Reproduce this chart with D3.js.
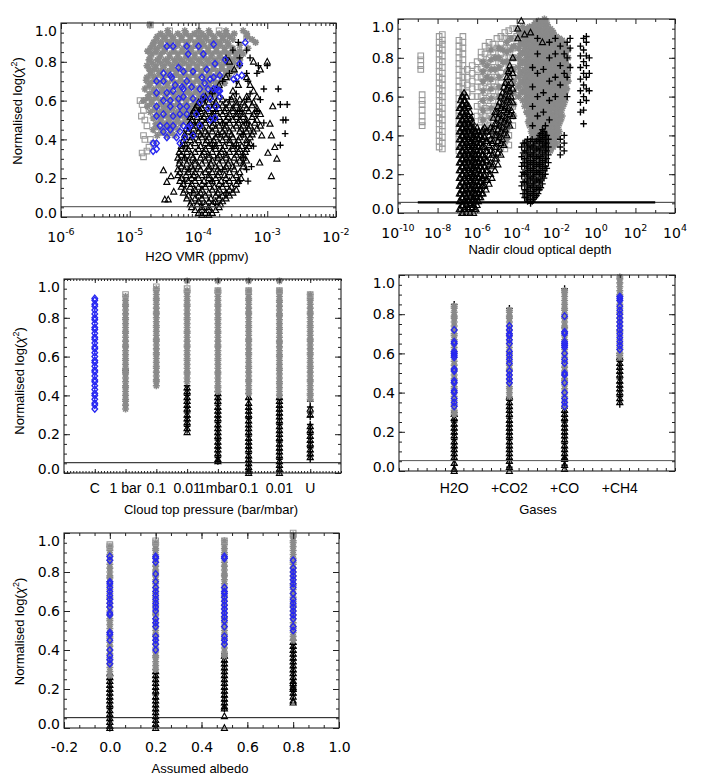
<!DOCTYPE html>
<html>
<head>
<meta charset="utf-8">
<script src="https://cdn.jsdelivr.net/npm/d3@7"></script>
<style>
  body { margin: 0; background: #fff; }
  text { font-family: "Liberation Sans", Arial, Helvetica, sans-serif; fill: #000; }
  .num { font-family: "DejaVu Sans", "Liberation Sans", Arial, sans-serif; }
</style>
</head>
<body>
<script>
// ---- data ----------------------------------------------------------------
// scatter blocks: each line is "y: log10(x) log10(x) ..." (rows) or "log10(x): y y ..." (cols)
// category columns: one string of y values (in hundredths) per category

var threshold = 0.053;
var threshold2 = 0.055;
var threshold2Span = [-9, 3];   // log10 extent of the heavy line in the optical depth panel

var yMajor = [0, 0.2, 0.4, 0.6, 0.8, 1.0];

// H2O VMR panel
var vmrDecades = [-6, -5, -4, -3, -2];
var vmrSquares = `
0.99: -4.7
0.96: -4.42 -3.7
0.92: -4.5 -3.3
0.88: -4.6
0.85: -4.65
0.80: -4.7
0.75: -4.68
0.70: -4.73
0.66: -4.75
0.63: -4.7
0.60: -4.85 -4.72
0.58: -4.82
0.55: -4.8
0.52: -4.83
0.50: -4.78
0.47: -4.75
0.45: -4.62
0.42: -4.8
0.40: -4.78 -4.7
0.38: -4.65
0.36: -4.72
0.34: -4.75
0.33: -4.82
0.31: -4.8`;
var vmrStars = `
0.99: -4.71
0.96: -4.45 -4.2 -4.0 -3.85 -3.6 -3.35
0.93: -4.6 -4.5 -4.38 -4.25 -4.12 -4.0 -3.9 -3.78 -3.65 -3.55 -3.29
0.90: -4.65 -4.55 -4.42 -4.3 -4.18 -4.05 -3.95 -3.82 -3.7 -3.58 -3.17
0.87: -4.7 -4.6 -4.48 -4.36 -4.22 -4.1 -3.98 -3.86 -3.74 -3.62 -3.5 -3.28
0.84: -4.68 -4.55 -4.42 -4.3 -4.18 -4.05 -3.92 -3.8 -3.68 -3.56 -3.45 -3.35
0.81: -4.72 -4.6 -4.48 -4.35 -4.25 -4.12 -4.0 -3.88 -3.76 -3.64 -3.52 -3.4
0.78: -4.75 -4.62 -4.5 -4.38 -4.26 -4.14 -4.02 -3.9 -3.78 -3.66 -3.55 -3.41
0.75: -4.7 -4.58 -4.45 -4.33 -4.2 -4.08 -3.96 -3.84 -3.72 -3.6 -3.48
0.72: -4.75 -4.63 -4.5 -4.38 -4.26 -4.14 -4.02 -3.9 -3.78 -3.66 -3.55
0.69: -4.7 -4.58 -4.45 -4.32 -4.2 -4.08 -3.96 -3.84 -3.72 -3.62
0.66: -4.78 -4.65 -4.52 -4.4 -4.28 -4.15 -4.03 -3.92 -3.8 -3.7
0.63: -4.72 -4.6 -4.47 -4.35 -4.22 -4.1 -3.98 -3.86 -3.76
0.60: -4.8 -4.68 -4.55 -4.42 -4.3 -4.18 -4.06 -3.94
0.57: -4.74 -4.6 -4.48 -4.36 -4.24 -4.12 -4.0
0.54: -4.7 -4.57 -4.45 -4.32 -4.2 -4.08
0.51: -4.66 -4.54 -4.42 -4.3 -4.18
0.48: -4.62 -4.5 -4.38 -4.26
0.45: -4.66 -4.52 -4.4 -4.3
0.42: -4.6 -4.45 -4.35`;
var vmrStarsB = `
0.945: -4.55 -4.43 -4.3 -4.18 -4.06 -3.95 -3.83 -3.7 -3.6 -3.48 -3.3
0.915: -4.62 -4.48 -4.36 -4.24 -4.12 -3.98 -3.88 -3.76 -3.64 -3.5 -3.22
0.885: -4.67 -4.54 -4.42 -4.3 -4.16 -4.04 -3.92 -3.8 -3.68 -3.56 -3.4
0.855: -4.74 -4.62 -4.5 -4.36 -4.24 -4.12 -3.98 -3.86 -3.74 -3.62 -3.5 -3.4
0.825: -4.7 -4.56 -4.42 -4.3 -4.18 -4.06 -3.94 -3.82 -3.7 -3.58 -3.46
0.795: -4.68 -4.55 -4.44 -4.32 -4.2 -4.08 -3.96 -3.84 -3.72 -3.6 -3.48
0.765: -4.72 -4.64 -4.52 -4.39 -4.27 -4.14 -4.02 -3.9 -3.78 -3.66 -3.54
0.735: -4.69 -4.56 -4.44 -4.32 -4.2 -4.08 -3.96 -3.84 -3.72 -3.6
0.705: -4.76 -4.64 -4.52 -4.38 -4.26 -4.14 -4.02 -3.9 -3.78 -3.66
0.675: -4.72 -4.58 -4.46 -4.34 -4.22 -4.09 -3.97 -3.86 -3.75
0.645: -4.66 -4.54 -4.41 -4.28 -4.16 -4.04 -3.92 -3.8
0.615: -4.74 -4.62 -4.49 -4.36 -4.24 -4.12 -4.0 -3.88
0.585: -4.68 -4.54 -4.42 -4.3 -4.18 -4.06
0.555: -4.64 -4.51 -4.39 -4.26 -4.14 -4.02
0.525: -4.6 -4.48 -4.36 -4.24 -4.12
0.495: -4.56 -4.44 -4.32 -4.2
0.465: -4.6 -4.46 -4.35
0.435: -4.53 -4.4`;
var vmrTriangles = `
0.80: -3.55 -3.2 -3.0
0.76: -3.48 -3.1
0.72: -3.6 -3.3
0.68: -3.7 -3.42 -3.25
0.65: -3.8 -3.5 -3.2
0.62: -3.9 -3.7 -3.5 -3.3 -3.15
0.59: -4.0 -3.85 -3.75 -3.6 -3.45 -3.35 -3.2
0.57: -2.92
0.56: -4.05 -3.95 -3.8 -3.7 -3.6 -3.5 -3.4 -3.3 -3.15
0.53: -4.1 -4.0 -3.9 -3.8 -3.65 -3.55 -3.45 -3.35 -3.2 -3.1
0.50: -4.1 -3.95 -3.85 -3.75 -3.6 -3.5 -3.4 -3.3 -3.15
0.48: -2.96
0.47: -4.15 -4.05 -3.95 -3.8 -3.7 -3.6 -3.45 -3.35 -3.25 -3.1
0.44: -4.15 -4.0 -3.9 -3.8 -3.65 -3.55 -3.4 -3.3 -3.2
0.42: -3.08 -2.94
0.41: -4.2 -4.1 -3.95 -3.85 -3.75 -3.6 -3.5 -3.4 -3.25
0.38: -4.2 -4.05 -3.9 -3.8 -3.7 -3.55 -3.45 -3.3 -3.25
0.36: -2.89
0.35: -4.25 -4.15 -4.0 -3.9 -3.75 -3.65 -3.5 -3.4 -3.3
0.33: -2.99
0.32: -4.25 -4.1 -3.95 -3.85 -3.7 -3.6 -3.45 -3.35
0.30: -2.86
0.29: -4.27 -4.15 -4.05 -3.9 -3.8 -3.65 -3.55 -3.4 -3.3
0.28: -3.11
0.26: -4.25 -4.1 -4.0 -3.85 -3.75 -3.6 -3.5 -3.35
0.24: -4.51
0.23: -4.27 -4.15 -4.05 -3.9 -3.8 -3.7 -3.55 -3.4
0.21: -4.4 -2.94
0.20: -4.25 -4.1 -4.0 -3.85 -3.75 -3.6 -3.5 -3.38
0.18: -4.46
0.17: -4.22 -4.1 -3.95 -3.85 -3.7 -3.6 -3.45
0.14: -4.2 -4.05 -3.95 -3.8 -3.7 -3.55 -3.45
0.13: -4.36
0.11: -4.15 -4.0 -3.9 -3.75 -3.65 -3.55
0.09: -4.49 -4.44
0.08: -4.1 -4.0 -3.85 -3.75 -3.65
0.05: -4.1 -3.95 -3.85 -3.7
0.02: -4.0 -3.9 -3.8`;
var vmrTrianglesB = `
0.605: -3.95 -3.8 -3.65 -3.52 -3.4 -3.27
0.575: -4.02 -3.9 -3.77 -3.65 -3.55 -3.45 -3.33 -3.22
0.545: -4.07 -3.97 -3.85 -3.75 -3.62 -3.5 -3.4 -3.27 -3.15
0.515: -4.12 -4.02 -3.92 -3.8 -3.7 -3.57 -3.45 -3.35 -3.22
0.485: -4.12 -4.0 -3.9 -3.78 -3.65 -3.55 -3.42 -3.3 -3.18
0.455: -4.18 -4.07 -3.97 -3.85 -3.75 -3.62 -3.5 -3.38 -3.27 -3.15
0.425: -4.2 -4.07 -3.97 -3.87 -3.72 -3.62 -3.52 -3.35 -3.22
0.395: -4.22 -4.12 -4.0 -3.88 -3.78 -3.65 -3.55 -3.42 -3.3
0.365: -4.25 -4.12 -3.97 -3.85 -3.75 -3.62 -3.5 -3.37 -3.27
0.335: -4.28 -4.17 -4.05 -3.92 -3.8 -3.67 -3.55 -3.42 -3.32
0.305: -4.3 -4.2 -4.08 -3.97 -3.85 -3.72 -3.6 -3.48 -3.35
0.275: -4.28 -4.17 -4.05 -3.95 -3.82 -3.7 -3.57 -3.45 -3.35
0.245: -4.3 -4.2 -4.08 -3.97 -3.85 -3.72 -3.62 -3.48
0.215: -4.3 -4.18 -4.07 -3.95 -3.85 -3.72 -3.62 -3.45
0.185: -4.27 -4.15 -4.05 -3.92 -3.8 -3.67 -3.55 -3.42
0.155: -4.25 -4.12 -4.0 -3.9 -3.77 -3.65 -3.52
0.125: -4.22 -4.07 -3.97 -3.85 -3.72 -3.6 -3.5
0.095: -4.17 -4.05 -3.95 -3.82 -3.7 -3.6
0.065: -4.12 -4.02 -3.9 -3.8 -3.68
0.035: -4.05 -3.95 -3.85 -3.75
0.01: -3.95 -3.85`;
var vmrPluses = `
0.90: -3.42
0.86: -3.5 -3.3
0.82: -3.6 -3.4 -3.25
0.78: -3.4 -3.13 -3.0
0.74: -3.55 -3.3 -3.15
0.70: -3.65 -3.45 -3.28
0.66: -2.84 -3.05
0.635: -3.8 -3.45 -3.25
0.605: -3.9 -3.55 -3.3 -3.1
0.58: -2.81 -2.71
0.545: -4.0 -3.75 -3.4 -3.15
0.50: -2.77 -2.73
0.485: -4.05 -3.65 -3.3 -3.05
0.43: -2.74
0.425: -4.1 -3.7 -3.35
0.37: -2.81
0.365: -4.2 -3.8 -3.45 -3.2
0.305: -4.2 -3.75 -3.35
0.26: -3.23
0.245: -4.15 -3.65 -3.3
0.185: -4.2 -3.8 -3.4 -3.28
0.125: -4.1 -3.6
0.065: -3.95 -3.75`;
var vmrDiamonds = `
0.88: -4.46 -4.37 -4.17 -4.0
0.89: -3.78
0.90: -3.32
0.84: -4.15 -3.93
0.81: -3.61
0.79: -3.76 -3.4
0.77: -4.29
0.76: -3.88
0.75: -4.22 -4.08
0.74: -4.51
0.73: -4.41 -3.69 -3.37
0.72: -3.78 -3.44 -4.39 -3.95
0.71: -3.49 -3.83
0.70: -4.61 -4.51 -4.17
0.69: -3.91
0.68: -4.34
0.67: -4.24 -4.1
0.66: -3.74 -4.22 -3.98 -3.86 -3.78
0.65: -3.69 -4.37 -3.71
0.64: -4.61 -4.46
0.62: -4.22 -3.93 -3.69
0.61: -4.29 -4.08 -3.83
0.60: -4.51 -4.41
0.59: -3.98
0.57: -4.61 -4.41 -4.27 -4.17 -3.74
0.56: -3.86
0.53: -4.51 -4.27 -4.17 -4.03
0.52: -4.61 -4.37
0.51: -3.76
0.50: -3.83
0.47: -4.56 -4.46 -4.37 -4.22 -4.12 -3.98
0.46: -4.15
0.45: -4.41
0.44: -4.51 -4.27
0.42: -4.08
0.41: -4.46 -4.32 -4.2
0.38: -4.66 -4.61 -4.27
0.35: -4.61
0.34: -4.66`;

// Nadir cloud optical depth panel
var tauDecades = [-10, -8, -6, -4, -2, 0, 2, 4];
var tauSquares = `
-8.85: .81 .79 .76 .74
-8.78: .61 .58 .56 .53 .50 .47 .45
-7.92: .91 .88 .85 .82 .79 .76 .73 .70 .67 .64 .61 .58 .55 .52 .49 .46 .43 .40 .37 .34
-7.76: .92 .89 .87 .84 .81 .78 .75 .72 .69 .66 .63 .60 .57 .54 .51 .48 .45 .42 .39 .36 .33
-6.92: .89 .86 .83 .80 .77 .74 .71 .68 .65 .62 .59 .56 .53 .50 .47 .44 .41 .38 .35 .32
-6.72: .91 .88 .85 .82 .79 .76 .73 .70 .67 .64 .61 .58 .55 .52 .49 .46 .43 .40 .37 .34 .31
-6.5: .62 .66 .70 .74
-6.25: .60 .64 .68 .72 .76
-6.0: .50 .55 .60 .65 .70 .74 .78
-5.8: .44 .48 .52 .56 .60 .65 .70 .75 .80 .83
-5.6: .42 .46 .50 .54 .58 .62 .67 .72 .77 .82 .86
-5.4: .40 .45 .50 .55 .60 .65 .70 .75 .80 .85 .88
-5.2: .38 .43 .48 .53 .58 .63 .68 .73 .78 .83 .87
-5.0: .36 .40 .45 .50 .55 .60 .65 .70 .75 .80 .85 .90
-4.8: .34 .38 .42 .47 .52 .57 .62 .67 .72 .77 .82 .87 .91
-4.6: .33 .37 .41 .45 .50 .55 .60 .65 .70 .75 .80 .85 .90 .93
-4.4: .35 .40 .45 .50 .55 .60 .65 .70 .75 .80 .85 .90 .94
-4.2: .45 .50 .55 .60 .65 .70 .75 .80 .85 .90 .95
-4.0: .62 .68 .74 .80 .86 .91 .95
-3.8: .66 .72 .78 .85 .92
-3.6: .70 .80 .92`;
var tauStars = `
-5.5: .70 .76
-5.1: .74 .80
-4.7: .78 .84
-4.3: .84 .90
-3.9: .60 .65 .70 .75 .80 .85 .90 .94
-3.7: .58 .63 .68 .73 .78 .83 .88 .93 .96
-3.5: .52 .56 .60 .64 .68 .72 .76 .80 .84 .88 .92 .95
-3.35: .45 .49 .53 .57 .61 .65 .69 .73 .77 .81 .85 .89 .93 .96
-3.2: .40 .44 .48 .52 .56 .60 .64 .68 .72 .76 .80 .84 .88 .92 .96
-3.05: .39 .43 .47 .51 .55 .59 .63 .67 .71 .75 .79 .83 .87 .91 .95 .98
-2.9: .40 .44 .48 .52 .56 .60 .64 .68 .72 .76 .80 .84 .88 .92 .96 .99
-2.75: .38 .42 .46 .50 .54 .58 .62 .66 .70 .74 .78 .82 .86 .90 .94 .98
-2.6: .36 .40 .44 .48 .52 .56 .60 .64 .68 .72 .76 .80 .84 .88 .92 .96 1.0
-2.45: .33 .37 .41 .45 .49 .53 .57 .61 .65 .69 .73 .77 .81 .85 .89 .93 .97
-2.3: .32 .36 .40 .44 .48 .52 .56 .60 .64 .68 .72 .76 .80 .84 .88 .92 .95
-2.15: .34 .38 .42 .46 .50 .54 .58 .62 .66 .70 .74 .78 .82 .86 .90 .93
-2.0: .36 .40 .44 .48 .52 .56 .60 .64 .68 .72 .76 .80 .84 .88 .91
-1.85: .42 .46 .50 .54 .58 .62 .66 .70 .74 .78 .82 .86 .90
-1.7: .50 .54 .58 .62 .66 .70 .74 .78 .82 .86 .89
-1.55: .58 .62 .66 .70 .74 .78 .82 .86
-1.4: .68 .72 .76 .80 .84`;
var tauStarsB = `
-5.7: .48 .53 .58 .63 .68 .73 .78
-5.3: .44 .49 .54 .59 .64 .69 .74 .79 .84
-4.9: .40 .45 .50 .55 .60 .65 .70 .75 .80 .85
-4.5: .38 .43 .48 .53 .58 .63 .68 .73 .78 .83 .88
-4.15: .50 .56 .62 .68 .74 .80 .86
-3.8: .62 .67 .72 .77 .82 .87 .92
-3.6: .55 .58 .62 .66 .70 .74 .78 .82 .86 .90 .94
-3.42: .47 .51 .55 .59 .63 .67 .71 .75 .79 .83 .87 .91 .95
-3.27: .42 .46 .50 .54 .58 .62 .66 .70 .74 .78 .82 .86 .90 .94
-3.12: .41 .45 .49 .53 .57 .61 .65 .69 .73 .77 .81 .85 .89 .93 .97
-2.97: .42 .46 .50 .54 .58 .62 .66 .70 .74 .78 .82 .86 .90 .94 .98
-2.82: .40 .44 .48 .52 .56 .60 .64 .68 .72 .76 .80 .84 .88 .92 .96
-2.67: .38 .42 .46 .50 .54 .58 .62 .66 .70 .74 .78 .82 .86 .90 .94 .98
-2.52: .35 .39 .43 .47 .51 .55 .59 .63 .67 .71 .75 .79 .83 .87 .91 .95 .99
-2.37: .34 .38 .42 .46 .50 .54 .58 .62 .66 .70 .74 .78 .82 .86 .90 .94
-2.22: .34 .38 .42 .46 .50 .54 .58 .62 .66 .70 .74 .78 .82 .86 .90 .94
-2.07: .38 .42 .46 .50 .54 .58 .62 .66 .70 .74 .78 .82 .86 .90
-1.92: .40 .44 .48 .52 .56 .60 .64 .68 .72 .76 .80 .84 .88
-1.77: .48 .52 .56 .60 .64 .68 .72 .76 .80 .84 .88
-1.62: .56 .60 .64 .68 .72 .76 .80 .84 .87
-1.47: .64 .68 .72 .76 .80 .84`;
var tauTriangles = `
-6.9: .02 .06 .10 .14 .18 .22 .26 .30 .34 .38 .42 .46 .50 .54
-6.78: .00 .04 .08 .12 .16 .20 .24 .28 .32 .36 .40 .44 .48 .52 .56 .60
-6.66: .02 .06 .10 .14 .18 .22 .26 .30 .34 .38 .42 .46 .50 .54 .58 .62
-6.54: .00 .04 .08 .12 .16 .20 .24 .28 .32 .36 .40 .44 .48 .52 .56 .60
-6.42: .02 .06 .10 .14 .18 .22 .26 .30 .34 .38 .42 .46 .50 .55
-6.3: .05 .09 .13 .17 .21 .25 .29 .33 .37 .41 .45 .49
-6.18: .00 .04 .08 .12 .16 .20 .24 .28 .32 .36 .40 .44
-6.06: .02 .06 .10 .14 .18 .22 .26 .30 .34 .38 .42
-5.94: .06 .10 .14 .18 .22 .26 .30 .34 .38 .42
-5.82: .08 .12 .16 .20 .24 .28 .32 .36 .40
-5.7: .10 .14 .18 .22 .26 .30 .34 .38 .43
-5.55: .12 .17 .22 .27 .32 .37 .42
-5.4: .15 .20 .25 .30 .35 .40
-5.25: .18 .24 .30 .36 .42
-5.1: .22 .28 .34 .40 .46 .52
-4.95: .25 .31 .37 .43 .49 .55
-4.8: .30 .36 .42 .48 .54 .60
-4.65: .35 .41 .47 .53 .59 .65
-4.5: .40 .46 .52 .58 .64 .70
-4.35: .45 .51 .57 .63 .70 .76
-4.2: .50 .57 .64 .72 .80
-3.95: .90 .95
-3.77: .99
-3.6: .92
-3.3: .93
-2.7: .88`;
var tauTrianglesB = `
-6.84: .02 .06 .10 .14 .18 .22 .26 .30 .34 .38 .42 .46 .50 .54 .58
-6.72: .00 .04 .08 .12 .16 .20 .24 .28 .32 .36 .40 .44 .48 .52 .56 .60
-6.6: .02 .06 .10 .14 .18 .22 .26 .30 .34 .38 .42 .46 .50 .54 .58
-6.48: .03 .07 .11 .15 .19 .23 .27 .31 .35 .39 .43 .47 .51 .55
-6.36: .00 .04 .08 .12 .16 .20 .24 .28 .32 .36 .40 .44 .48 .52
-6.24: .03 .07 .11 .15 .19 .23 .27 .31 .35 .39 .43 .47
-6.12: .02 .06 .10 .14 .18 .22 .26 .30 .34 .38 .42
-6.0: .04 .08 .12 .16 .20 .24 .28 .32 .36 .40 .44
-5.88: .08 .12 .16 .20 .24 .28 .32 .36 .40
-5.76: .10 .14 .18 .22 .26 .30 .34 .38 .42
-5.62: .14 .19 .24 .29 .34 .39 .44
-5.48: .17 .22 .27 .32 .37 .42
-5.32: .20 .26 .32 .38 .44
-5.18: .25 .31 .37 .43 .49
-5.02: .28 .34 .40 .46 .52
-4.88: .33 .39 .45 .51 .57
-4.72: .38 .44 .50 .56 .62
-4.58: .43 .49 .55 .61 .67
-4.42: .48 .54 .60 .66 .73
-4.28: .53 .60 .67 .74`;
var tauPluses = `
-3.75: .14 .19 .24 .29 .34
-3.6: .08 .12 .16 .20 .24 .28 .32 .36
-3.45: .06 .10 .14 .18 .22 .26 .30 .34 .38
-3.3: .05 .09 .13 .17 .21 .25 .29 .33 .37
-3.15: .07 .11 .15 .19 .23 .27 .31 .35
-3.0: .09 .13 .17 .21 .25 .29 .33 .37
-2.85: .12 .16 .20 .24 .28 .32 .36 .40
-2.7: .15 .19 .23 .27 .31 .35 .39 .43
-2.55: .20 .24 .28 .32 .36 .40 .45
-2.4: .26 .30 .34 .38
-3.2: .45 .55 .65 .75
-2.95: .50 .60 .72 .82 .90
-2.65: .52 .62 .74
-2.35: .48 .58 .68 .80 .88
-2.05: .60 .70 .82 .90
-1.8: .30 .34 .38 .66 .76 .86
-1.6: .32 .36 .40 .72 .82
-1.45: .60 .70 .80 .88
-1.3: .75 .85 .90
-0.78: .52 .57 .63 .69 .75 .81 .86
-0.62: .46 .53 .60 .66 .72 .78 .84 .90
-0.48: .58 .64 .70 .76 .81 .88 .91
-0.33: .63 .72 .80`;
var tauPlusesB = `
-3.68: .10 .16 .21 .26 .31 .36
-3.52: .08 .12 .16 .20 .24 .28 .32 .36
-3.38: .07 .11 .15 .19 .23 .27 .31 .35
-3.22: .06 .10 .14 .18 .22 .26 .30 .34 .38
-3.08: .08 .12 .16 .20 .24 .28 .32 .36
-2.92: .10 .14 .18 .22 .26 .30 .34 .38
-2.78: .13 .17 .21 .25 .29 .33 .37 .41
-2.62: .18 .22 .26 .30 .34 .38 .42
-2.48: .23 .28 .32 .36 .40`;

// Cloud top pressure panel
var pressCats = ["C", "1 bar", "0.1", "0.01", "1mbar", "0.1", "0.01", "U"];
var pressDiamonds = [
  "33 35 36 38 40 41 43 45 47 48 50 52 53 55 57 58 60 62 64 65 67 69 70 72 74 75 77 79 80 82 84 86 87 89 90",
  "", "", "", "", "", "", ""];
var pressStars = [
  "",
  "33 35 37 38 40 42 44 45 47 49 51 52 54 56 58 59 61 63 65 66 68 70 72 73 75 77 79 80 82 84 86 87 89 91",
  "45 47 48 50 52 54 55 57 59 61 62 64 66 68 69 71 73 75 76 78 80 82 83 85 87 89 90 92 94 95",
  "47 49 51 52 54 56 58 59 61 63 65 66 68 70 72 73 75 77 79 80 82 84 86 87 89 91 93 94 99",
  "42 44 45 47 49 51 52 54 56 58 59 61 63 65 66 68 70 72 73 75 77 79 80 82 84 86 87 89 91 93 94 99",
  "41 43 45 47 48 50 52 54 55 57 59 61 62 64 66 68 69 71 73 75 76 78 80 82 83 85 87 89 90 92 94 99",
  "40 42 44 46 47 49 51 53 54 56 58 60 61 63 65 67 68 70 72 74 75 77 79 81 82 84 86 88 89 91 93 94 99",
  "38 40 41 43 45 47 48 50 52 54 55 57 59 61 62 64 66 68 69 71 73 75 76 78 80 82 83 85 87 89 90 92"];
var pressSquares = ["", "92", "96", "95", "94", "94", "94", "92"];
var pressPluses = [
  "", "53", "",
  "22 24 25 27 29 31 32 34 36 38 40 41 43 45",
  "06 08 09 11 13 15 17 18 20 22 24 26 27 29 31 33 35 36 38 40 42",
  "01 02 04 06 08 10 11 13 15 17 19 20 22 24 26 28 29 31 33 35 38 41",
  "01 03 05 07 08 10 12 14 16 17 19 21 23 25 26 28 30 32 34 36 38 40",
  "07 09 11 13 14 16 18 20 21 23 25 29 31 34 37"];
var pressTriangles = [
  "", "", "",
  "21 23 26 28 30 33 35 37 39 42 44",
  "06 07 10 12 14 16 19 21 23 25 28 30 32 34 37 39 41",
  "00 01 03 05 07 09 12 14 16 18 21 23 25 27 30 32 34 36 39",
  "00 02 04 06 09 11 13 15 18 20 22 24 27 29 31 33 35 37 39",
  "08 10 12 15 17 19 22 24 30 33"];

// Gases panel
var gasCats = ["H2O", "+CO2", "+CO", "+CH4"];
var gasStars = [
  "29 31 33 34 36 38 40 42 43 45 47 49 51 52 54 56 58 60 61 63 65 67 69 70 72 74 76 78 79 81 83 84",
  "38 40 42 43 45 47 49 51 52 54 56 58 60 61 63 65 67 69 70 72 74 76 78 79 81 82",
  "33 35 37 38 40 42 44 46 47 49 51 53 55 56 58 60 62 64 65 67 69 71 73 74 76 78 80 82 83 85 87 89 91 92",
  "58 60 62 63 65 67 69 71 72 74 76 78 80 81 83 85 87 89 90 92 94 96 98 99"];
var gasDiamonds = [
  "33 35 37 40 41 45 46 51 52 58 59 60 61 65 66 72",
  "45 47 49 51 55 57 59 61 65 67 69 70 72 74",
  "33 35 37 40 45 49 50 55 57 60 63 64 65 66 70 71 79",
  "62 64 66 68 70 72 74 76 78 80 82 84 87 88 89"];
var gasPluses = [
  "03 06 08 10 12 14 16 17 19 21 23 25 26 28 30 85",
  "02 04 06 08 10 12 14 16 17 19 21 23 25 27 28 30 32 34 36 37 83",
  "03 06 08 10 12 14 15 17 19 21 23 25 26 28 30 32 93",
  "34 36 38 39 41 43 45 47 48 50 52 54 56 57 59 60"];
var gasTriangles = [
  "00 01 04 07 09 11 13 15 18 20 22 24 27 29",
  "00 02 05 07 09 11 13 15 18 20 22 24 26 29 31 33 35 38",
  "01 03 06 07 09 11 13 16 18 20 22 24 27 29 31",
  "35 37 40 42 44 46 49 51 53 55 58"];

// Assumed albedo panel
var albedos = [0.0, 0.2, 0.5, 0.8];
var albTicks = [-0.2, 0.0, 0.2, 0.4, 0.6, 0.8, 1.0];
var albStars = [
  "27 29 31 33 35 36 38 40 42 44 46 47 49 51 53 55 56 58 60 62 64 66 67 69 71 73 75 77 78 80 82 84 86 88 89 91 93",
  "30 32 34 36 37 39 41 43 45 47 48 50 52 54 56 58 59 61 63 65 67 69 70 72 74 76 78 80 81 83 85 87 89 91 92 94 95",
  "37 39 41 43 45 46 48 50 52 54 56 57 59 61 63 65 67 68 70 72 74 76 78 79 81 83 85 87 89 90 92 94 96",
  "45 47 49 51 52 54 56 58 60 62 63 65 67 69 71 73 74 76 78 80 82 84 85 87 89 91 93 95 96 98 99"];
var albSquares = ["93 94", "95 96", "96", "100"];
var albDiamonds = [
  "33 35 37 40 45 48 49 58 59 62 64 66 68 70 72 74 75 86 88",
  "40 43 45 47 52 54 56 60 62 64 66 68 70 72 75 79 85 87 88",
  "43 45 47 52 55 57 59 61 63 65 67 69 70 72 87 88",
  "50 52 56 58 60 62 64 66 69 72 74 76 78 80 82 86"];
var albPluses = [
  "00 02 04 06 08 10 11 13 15 17 19 21 23 25 27",
  "01 03 05 07 09 11 13 15 17 18 20 22 24 26 28 30",
  "10 12 14 16 18 20 22 24 26 28 30 32 34 36 38",
  "17 19 21 23 25 27 29 31 33 35 37 39 41 43 45"];
var albTriangles = [
  "00 01 03 05 07 09 12 14 16 18 20 22 24 26 28",
  "00 02 04 06 08 10 12 14 16 19 21 23 25 27 29",
  "00 06 10 11 13 15 17 19 21 23 25 27 29 31 33 35 37",
  "13 14 16 18 20 21 23 24 26 28 30 32 34 36 38 40 42 44"];

// ---- helpers -------------------------------------------------------------

function readRows(block) {
    var out = [];
    block.trim().split("\n").forEach(function(line) {
        var p = line.split(":"), y = +p[0];
        p[1].trim().split(/\s+/).forEach(function(x) { out.push([+x, y]); });
    });
    return out;
}

function readCols(block) {
    return readRows(block).map(function(d) { return [d[1], d[0]]; });
}

function readCats(list, pos) {
    var out = [];
    list.forEach(function(s, i) {
        if (!s) return;
        s.trim().split(/\s+/).forEach(function(v) { out.push([pos[i], +v / 100]); });
    });
    return out;
}

var marks = {
    sq:   {d: "M-2.8,-2.8H2.8V2.8H-2.8Z", stroke: "#9a9a9a", sw: 1.1},
    ast:  {d: "M-3.5,0H3.5M0,-3.5V3.5M-2.5,-2.5L2.5,2.5M-2.5,2.5L2.5,-2.5", stroke: "#8a8a8a", sw: 1.6},
    tri:  {d: "M0,-3.3L3,2.3L-3,2.3Z", stroke: "#000", sw: 1.15},
    plus: {d: "M-3.3,0H3.3M0,-3.4V3.4", stroke: "#000", sw: 1.35},
    dia:  {d: "M0,-3.3L2.8,0L0,3.3L-2.8,0Z", stroke: "#2626f2", sw: 1.35}
};

var svg = d3.select("body").append("svg")
    .attr("width", 706)
    .attr("height", 784);

function panel(o) {
    var g = svg.append("g").attr("transform", "translate(" + o.left + "," + o.top + ")");
    var x = o.x.range([0, o.width]);
    var y = d3.scaleLinear().domain([0, 1]).range([o.height, 0]);
    return {g: g, x: x, y: y, w: o.width, h: o.height, log: !!o.log};
}

function plot(p, pts, type) {
    var m = marks[type];
    p.g.append("g").selectAll("path")
        .data(pts)
        .enter().append("path")
        .attr("transform", function(d) {
            var xv = p.log ? Math.pow(10, d[0]) : d[0];
            return "translate(" + p.x(xv) + "," + p.y(d[1]) + ")";
        })
        .attr("d", m.d)
        .attr("fill", "none")
        .attr("stroke", m.stroke)
        .attr("stroke-width", m.sw);
}

function hline(p, v, color, width, x0, x1) {
    p.g.append("line")
        .attr("x1", x0 == null ? 0 : x0).attr("x2", x1 == null ? p.w : x1)
        .attr("y1", p.y(v)).attr("y2", p.y(v))
        .attr("stroke", color).attr("stroke-width", width);
}

function strip(sel) {
    sel.select(".domain").remove();
    sel.selectAll(".tick line").attr("stroke", "#222");
}

function yAxes(p, yMinor) {
    p.g.append("g").call(d3.axisLeft(p.y).tickValues(yMinor).tickSize(-3).tickFormat("")).call(strip);
    p.g.append("g").attr("transform", "translate(" + p.w + ",0)")
        .call(d3.axisRight(p.y).tickValues(yMinor).tickSize(-3).tickFormat("")).call(strip);
    p.g.append("g").attr("transform", "translate(" + p.w + ",0)")
        .call(d3.axisRight(p.y).tickValues(yMajor).tickSize(-6).tickFormat("")).call(strip);
    var left = p.g.append("g")
        .call(d3.axisLeft(p.y).tickValues(yMajor).tickSize(-6).tickPadding(4)
            .tickFormat(function(d) { return d.toFixed(1); }))
        .call(strip);
    left.selectAll("text")
        .attr("class", "num")
        .style("font-size", "14px")
        .attr("dy", function(d) { return d === 1 ? "0.9em" : d === 0 ? "0.02em" : "0.34em"; });
}

function xTicks(p, values, len) {
    p.g.append("g").attr("transform", "translate(0," + p.h + ")")
        .call(d3.axisBottom(p.x).tickValues(values).tickSize(-len).tickFormat("")).call(strip);
    p.g.append("g")
        .call(d3.axisTop(p.x).tickValues(values).tickSize(-len).tickFormat("")).call(strip);
}

function frame(p) {
    p.g.append("rect")
        .attr("width", p.w).attr("height", p.h)
        .attr("fill", "none").attr("stroke", "#222").attr("stroke-width", 1.1);
}

function logLabels(p, decades, dy) {
    p.g.append("g").selectAll("text")
        .data(decades)
        .enter().append("text")
        .attr("class", "num")
        .attr("x", function(d) { return p.x(Math.pow(10, d)); })
        .attr("y", p.h + dy)
        .attr("text-anchor", "middle")
        .style("font-size", "14px")
        .each(function(d) {
            var t = d3.select(this);
            t.append("tspan").text("10");
            t.append("tspan").attr("dy", -7).style("font-size", "9.5px").text(d);
        });
}

function catLabels(p, cats, pos, dy) {
    p.g.append("g").selectAll("text")
        .data(cats)
        .enter().append("text")
        .attr("x", function(d, i) { return p.x(pos[i]); })
        .attr("y", p.h + dy)
        .attr("text-anchor", "middle")
        .style("font-size", "14px")
        .text(function(d) { return d; });
}

function xTitle(x, y, label) {
    svg.append("text")
        .attr("x", x).attr("y", y)
        .attr("text-anchor", "middle")
        .style("font-size", "13px")
        .text(label);
}

function yTitle(p, dx, dy) {
    var t = p.g.append("text")
        .attr("transform", "translate(" + dx + "," + (p.h / 2 + dy) + ") rotate(-90)")
        .attr("text-anchor", "middle")
        .style("font-size", "13px");
    t.append("tspan").text("Normalised log(");
    t.append("tspan").style("font-style", "italic").text("\u03c7");
    t.append("tspan").attr("dy", -5).style("font-size", "9px").text("2");
    t.append("tspan").attr("dy", 5).text(")");
}

function logMinor(decades) {
    var out = [];
    decades.forEach(function(e, i) {
        if (i === decades.length - 1) return;
        [2, 3, 4, 5, 6, 7, 8, 9].forEach(function(k) { out.push(k * Math.pow(10, e)); });
    });
    return out;
}

var yMinor = d3.range(0, 1.0001, 0.05);

// ---- panel 1: H2O VMR ----------------------------------------------------
var p1 = panel({left: 61, top: 23, width: 275, height: 194, log: true,
    x: d3.scaleLog().domain([1e-6, 1e-2])});
plot(p1, readRows(vmrSquares), "sq");
plot(p1, readRows(vmrStars), "ast");
plot(p1, readRows(vmrStarsB), "ast");
plot(p1, readRows(vmrTriangles), "tri");
plot(p1, readRows(vmrTrianglesB), "tri");
plot(p1, readRows(vmrPluses), "plus");
plot(p1, readRows(vmrDiamonds), "dia");
hline(p1, threshold, "#444", 1);
xTicks(p1, vmrDecades.map(function(e) { return Math.pow(10, e); }), 6);
xTicks(p1, logMinor(vmrDecades), 3);
yAxes(p1, yMinor);
frame(p1);
logLabels(p1, vmrDecades, 25);
yTitle(p1, -39, -9);
xTitle(197, 261, "H2O VMR (ppmv)");

// ---- panel 2: nadir cloud optical depth -----------------------------------
var p2 = panel({left: 398, top: 19, width: 277, height: 194, log: true,
    x: d3.scaleLog().domain([1e-10, 1e4])});
plot(p2, readCols(tauSquares), "sq");
plot(p2, readCols(tauStars), "ast");
plot(p2, readCols(tauStarsB), "ast");
plot(p2, readCols(tauTriangles), "tri");
plot(p2, readCols(tauTrianglesB), "tri");
plot(p2, readCols(tauPluses), "plus");
plot(p2, readCols(tauPlusesB), "plus");
hline(p2, threshold2, "#333", 1);
hline(p2, threshold2, "#000", 2.2, p2.x(Math.pow(10, threshold2Span[0])), p2.x(Math.pow(10, threshold2Span[1])));
xTicks(p2, tauDecades.map(function(e) { return Math.pow(10, e); }), 5);
xTicks(p2, d3.range(-9, 4, 2).map(function(e) { return Math.pow(10, e); }), 3);
yAxes(p2, yMinor);
frame(p2);
logLabels(p2, tauDecades, 25);
xTitle(540, 254, "Nadir cloud optical depth");

// ---- panel 3: cloud top pressure ------------------------------------------
var pressPos = pressCats.map(function(d, i) { return i + 1; });
var p3 = panel({left: 64, top: 279, width: 277, height: 194,
    x: d3.scaleLinear().domain([0, 9])});
plot(p3, readCats(pressTriangles, pressPos), "tri");
plot(p3, readCats(pressPluses, pressPos), "plus");
plot(p3, readCats(pressStars, pressPos), "ast");
plot(p3, readCats(pressSquares, pressPos), "sq");
plot(p3, readCats(pressDiamonds, pressPos), "dia");
hline(p3, threshold, "#111", 1);
xTicks(p3, d3.range(0, 9.001, 0.1), 2);
xTicks(p3, pressPos, 4);
yAxes(p3, yMinor);
frame(p3);
catLabels(p3, pressCats, pressPos, 20);
yTitle(p3, -40, 5);
xTitle(211, 514, "Cloud top pressure (bar/mbar)");

// ---- panel 4: gases --------------------------------------------------------
var gasPos = gasCats.map(function(d, i) { return i + 1; });
var p4 = panel({left: 399, top: 275, width: 276, height: 196,
    x: d3.scaleLinear().domain([0, 5])});
plot(p4, readCats(gasTriangles, gasPos), "tri");
plot(p4, readCats(gasPluses, gasPos), "plus");
plot(p4, readCats(gasStars, gasPos), "ast");
plot(p4, readCats(gasDiamonds, gasPos), "dia");
hline(p4, threshold, "#555", 1);
xTicks(p4, d3.range(0, 5.001, 1 / 6), 3);
yAxes(p4, yMinor);
frame(p4);
catLabels(p4, gasCats, gasPos, 22);
xTitle(538, 514, "Gases");

// ---- panel 5: assumed albedo -----------------------------------------------
var p5 = panel({left: 64, top: 533, width: 275, height: 195,
    x: d3.scaleLinear().domain([-0.2, 1.0])});
plot(p5, readCats(albTriangles, albedos), "tri");
plot(p5, readCats(albPluses, albedos), "plus");
plot(p5, readCats(albStars, albedos), "ast");
plot(p5, readCats(albSquares, albedos), "sq");
plot(p5, readCats(albDiamonds, albedos), "dia");
hline(p5, threshold, "#111", 1);
xTicks(p5, d3.range(-0.2, 1.0001, 0.2 / 3), 3);
xTicks(p5, albTicks, 6);
yAxes(p5, yMinor);
frame(p5);
p5.g.append("g").attr("transform", "translate(0," + p5.h + ")")
    .call(d3.axisBottom(p5.x).tickValues(albTicks).tickSize(0).tickPadding(14)
        .tickFormat(function(d) { return d.toFixed(1); }))
    .call(strip)
    .selectAll("text").attr("class", "num").style("font-size", "14px");
yTitle(p5, -40, 1);
xTitle(200, 773, "Assumed albedo");
</script>
</body>
</html>
